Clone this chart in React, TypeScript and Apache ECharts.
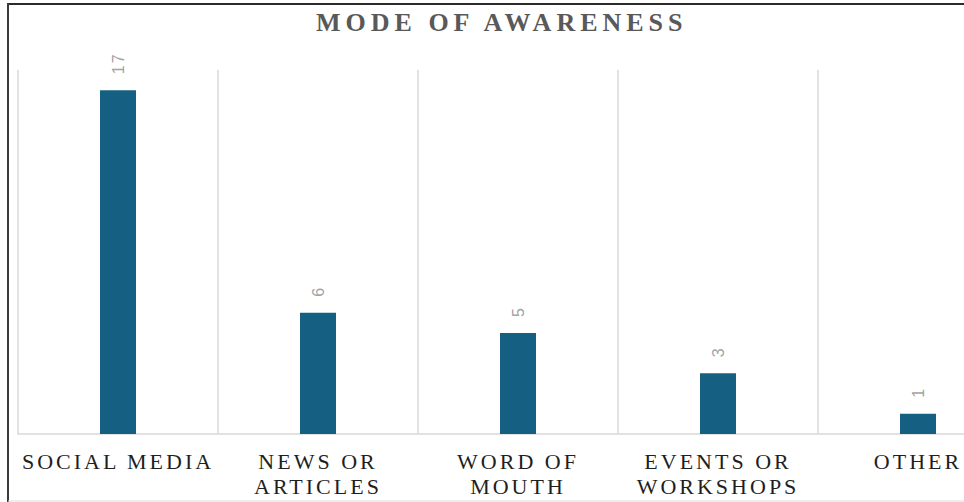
import React, { useEffect, useRef } from "react";
import * as echarts from "echarts";

const categories = ["SOCIAL MEDIA", "NEWS OR\nARTICLES", "WORD OF\nMOUTH", "EVENTS OR\nWORKSHOPS", "OTHER"];
const counts = [17, 6, 5, 3, 1];
const chartTitle = "MODE OF AWARENESS";

const BAR = "#156082";
const SERIF = "Liberation Serif";

// extra tracking per font size, applied to the rendered svg text
const tracking: Record<string, string> = { "26px": "5px", "22px": "3px", "16px": "2px" };

export default function App() {
  const ref = useRef<HTMLDivElement>(null);

  useEffect(() => {
    if (!ref.current) return;
    const chart = echarts.init(ref.current, undefined, { renderer: "svg" });
    chart.setOption({
      animation: false,
      backgroundColor: "#ffffff",
      title: {
        text: chartTitle,
        left: 316,
        top: 9,
        padding: 0,
        textStyle: { fontFamily: SERIF, fontWeight: "bold", fontSize: 26, color: "#595959" },
      },
      // plot area runs past the visible edge, so the last category is clipped
      grid: { left: 18, width: 1000, top: 70, bottom: 68, containLabel: false },
      xAxis: {
        type: "category",
        data: categories,
        boundaryGap: true,
        axisLine: { show: true, lineStyle: { color: "#d9d9d9", width: 1.5 } },
        axisTick: { show: false },
        splitLine: { show: true, interval: 0, lineStyle: { color: "#d9d9d9", width: 1.5 } },
        axisLabel: {
          interval: 0,
          margin: 15,
          fontFamily: SERIF,
          fontSize: 22,
          lineHeight: 25,
          color: "#1f1f1f",
        },
      },
      yAxis: { type: "value", min: 0, max: 18, show: false, splitLine: { show: false } },
      series: [
        {
          type: "bar",
          data: counts,
          barWidth: 36,
          itemStyle: { color: BAR },
          label: {
            show: true,
            position: "top",
            rotate: 90,
            align: "left",
            verticalAlign: "middle",
            distance: 16,
            fontFamily: "Liberation Sans",
            fontSize: 16,
            color: "#a3a3a3",
          },
        },
      ],
      graphic: [
        { type: "line", shape: { x1: 7, y1: 4, x2: 964, y2: 4 }, style: { stroke: "#2b2b2b", lineWidth: 2 } },
        { type: "line", shape: { x1: 8, y1: 3, x2: 8, y2: 502 }, style: { stroke: "#3a3a3a", lineWidth: 2 } },
        { type: "line", shape: { x1: 8, y1: 501, x2: 964, y2: 501 }, style: { stroke: "#dddddd", lineWidth: 1 } },
      ],
    });
    ref.current.querySelectorAll("text").forEach((t) => {
      const el = t as SVGTextElement;
      const size = el.style.fontSize;
      if (tracking[size]) el.style.letterSpacing = tracking[size];
    });
    return () => chart.dispose();
  }, []);

  return (
    <div style={{ position: "absolute", left: 0, top: 0, width: 964, height: 502, overflow: "hidden" }}>
      <div ref={ref} style={{ position: "absolute", left: 0, top: 0, width: 1080, height: 502 }} />
    </div>
  );
}
